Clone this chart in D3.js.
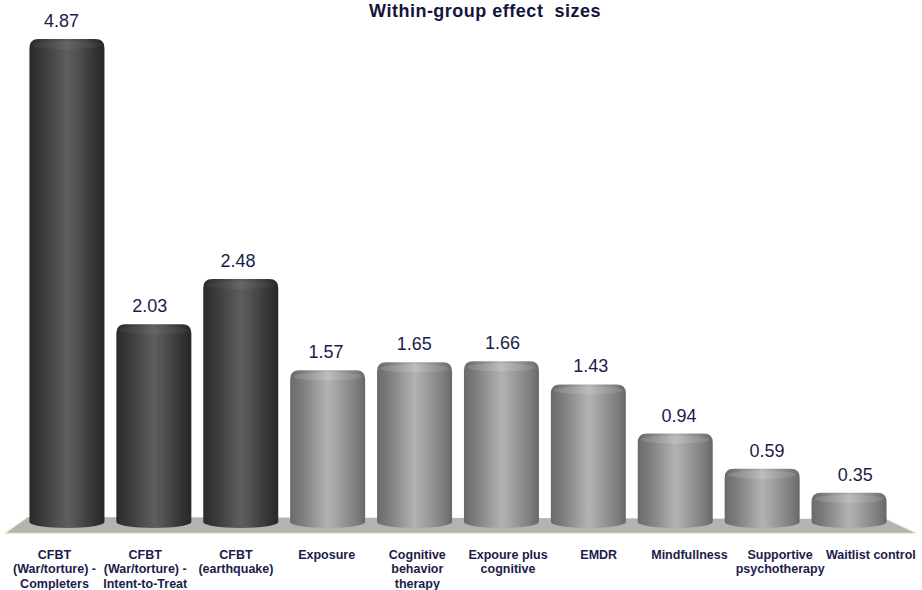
<!DOCTYPE html>
<html><head><meta charset="utf-8">
<script src="https://cdn.jsdelivr.net/npm/d3@7/dist/d3.min.js"></script>
<style>body{margin:0;background:#fff}svg{display:block}</style>
</head><body>
<svg id="c" width="922" height="590"></svg>
<script>
const categories = [
  ["CFBT","(War/torture) -","Completers"],
  ["CFBT","(War/torture) -","Intent-to-Treat"],
  ["CFBT","(earthquake)"],
  ["Exposure"],
  ["Cognitive","behavior","therapy"],
  ["Expoure plus","cognitive"],
  ["EMDR"],
  ["Mindfullness"],
  ["Supportive","psychotherapy"],
  ["Waitlist control"]
];
const values = [4.87, 2.03, 2.48, 1.57, 1.65, 1.66, 1.43, 0.94, 0.59, 0.35];
const groups = ["cfbt","cfbt","cfbt","other","other","other","other","other","other","other"];
const valueLabels = ["4.87","2.03","2.48","1.57","1.65","1.66","1.43","0.94","0.59","0.35"];
const title = "Within-group effect  sizes";

const svg = d3.select("#c");
const idx = d3.range(values.length);
const x = d3.scaleBand().domain(idx).range([23.5, 892.5]).paddingInner(0.137).paddingOuter(0.0685);
const xl = d3.scaleBand().domain(idx).range([9.15, 916.2]);
const xv = d3.scaleBand().domain(idx).range([17.4, 899.4]);
const y = d3.scaleLinear().domain([0, 5]).range([528, 26]);

const defs = svg.append("defs");
function grad(id, stops){
  const g = defs.append("linearGradient").attr("id", id).attr("x1","0").attr("x2","1").attr("y1","0").attr("y2","0");
  stops.forEach(s => g.append("stop").attr("offset", s[0]).attr("stop-color", s[1]));
}
grad("gDark", [[0,"#2a2a2a"],[0.15,"#383838"],[0.5,"#5e5e5e"],[0.6,"#555"],[0.88,"#333"],[1,"#282828"]]);
grad("gLight", [[0,"#6a6a6a"],[0.15,"#7c7c7c"],[0.5,"#b2b2b2"],[0.6,"#a6a6a6"],[0.88,"#7e7e7e"],[1,"#686868"]]);
grad("gDarkTop", [[0,"#3a3a3a"],[0.5,"#6a6a6a"],[1,"#3a3a3a"]]);
grad("gLightTop", [[0,"#8a8a8a"],[0.5,"#c4c4c4"],[1,"#8a8a8a"]]);
const fb = defs.append("filter").attr("id","blur").attr("x","-10%").attr("y","-10%").attr("width","120%").attr("height","120%");
fb.append("feGaussianBlur").attr("stdDeviation", 0.6);

// floor
const floorTop = y(0) - 11, floorBot = y(0) + 5;
svg.append("path")
  .attr("d", `M${x.range()[0]+4},${floorTop} L${x.range()[1]-6},${floorTop+2} L${xl.range()[1]},${floorBot} L${xl.range()[0]-4},${floorBot} Z`)
  .attr("fill", "#b3b3b3");
svg.append("line")
  .attr("x1", xl.range()[0]-4).attr("x2", xl.range()[1]).attr("y1", floorBot+0.5).attr("y2", floorBot+0.5)
  .attr("stroke", "#f2f0c8").attr("stroke-width", 1.5);
svg.append("line")
  .attr("x1", xl.range()[0]-4).attr("x2", x.range()[0]+4).attr("y1", floorBot).attr("y2", floorTop)
  .attr("stroke", "#f2f0c8").attr("stroke-width", 1.2);
svg.append("line")
  .attr("x1", xl.range()[1]).attr("x2", x.range()[1]-6).attr("y1", floorBot).attr("y2", floorTop+2)
  .attr("stroke", "#f2f0c8").attr("stroke-width", 1.2);

// bars (cylinders)
const ry = 6, r = 9;
const bars = svg.append("g").selectAll("g").data(idx).join("g").attr("filter","url(#blur)");
bars.append("path")
  .attr("d", i => {
    const x0 = x(i), w = x.bandwidth(), x1 = x0 + w, yt = y(values[i]), yb = y(0) - ry;
    return `M${x0},${yt + r} Q${x0},${yt} ${x0 + r},${yt} L${x1 - r},${yt} Q${x1},${yt} ${x1},${yt + r} L${x1},${yb} A${w/2},${ry} 0 0 1 ${x0},${yb} Z`;
  })
  .attr("fill", i => groups[i] === "cfbt" ? "url(#gDark)" : "url(#gLight)");
bars.append("ellipse")
  .attr("cx", i => x(i) + x.bandwidth()/2)
  .attr("cy", i => y(values[i]) + ry)
  .attr("rx", x.bandwidth()/2 - 3)
  .attr("ry", ry - 2)
  .attr("fill", i => groups[i] === "cfbt" ? "url(#gDarkTop)" : "url(#gLightTop)")
  .attr("opacity", 0.6);

// value labels
svg.append("g").selectAll("text").data(idx).join("text")
  .attr("x", i => xv(i) + xv.bandwidth()/2)
  .attr("y", i => y(values[i]) - 12)
  .attr("text-anchor", "middle")
  .attr("font-family", "Liberation Sans, Arial, sans-serif")
  .attr("font-size", 18)
  .attr("fill", "#1c1c4a")
  .text(i => valueLabels[i]);

// category labels
const cl = svg.append("g").selectAll("text").data(idx).join("text")
  .attr("text-anchor", "middle")
  .attr("font-family", "Liberation Sans, Arial, sans-serif")
  .attr("font-weight", "bold")
  .attr("font-size", 12.5)
  .attr("fill", "#1c1c4a");
cl.selectAll("tspan").data(i => categories[i].map(t => ({t, i}))).join("tspan")
  .attr("x", d => xl(d.i) + xl.bandwidth()/2)
  .attr("y", (d, k) => 558.5 + k * 14.5)
  .text(d => d.t);

// title
svg.append("text")
  .attr("x", 485).attr("y", 17)
  .attr("text-anchor", "middle")
  .attr("font-family", "Liberation Sans, Arial, sans-serif")
  .attr("font-weight", "bold")
  .attr("font-size", 18)
  .attr("letter-spacing", 0.5)
  .attr("fill", "#14143c")
  .attr("xml:space", "preserve")
  .style("white-space", "pre")
  .text(title);
</script>
</body></html>
